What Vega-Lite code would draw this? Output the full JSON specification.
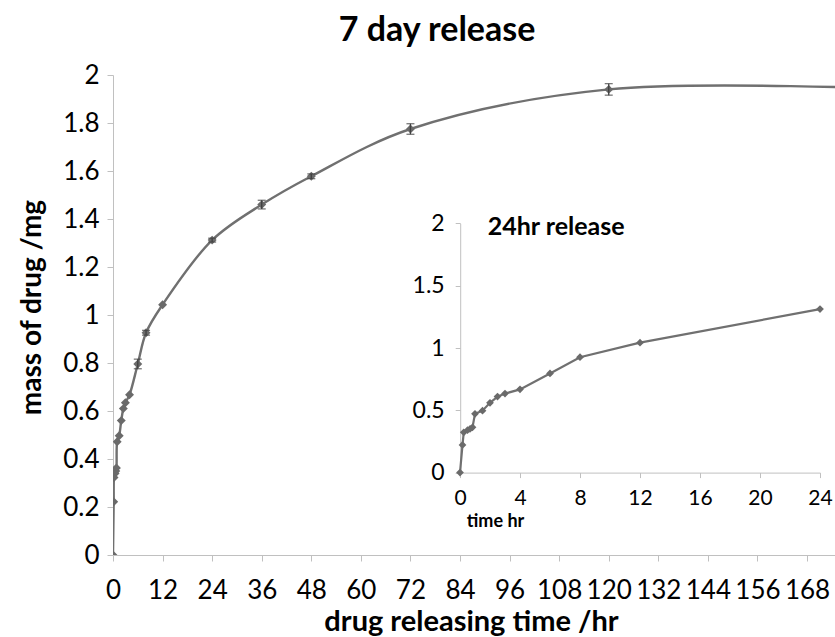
{
  "$schema": "https://vega.github.io/schema/vega-lite/v6.json",
  "width": 722,
  "height": 480,
  "autosize": {"type": "none"},
  "padding": {"left": 113, "top": 75, "right": 0, "bottom": 82},
  "background": "white",
  "config": {
    "font": "Lato",
    "view": {"stroke": null},
    "axis": {
      "grid": false,
      "domainColor": "#c0c0c0",
      "tickColor": "#c0c0c0",
      "labelColor": "#000000",
      "titleColor": "#000000",
      "labelFont": "Lato",
      "titleFont": "Lato"
    }
  },
  "title": {
    "text": "7 day release",
    "fontSize": 34,
    "fontWeight": "bold",
    "font": "Lato",
    "color": "#000000",
    "dx": -37,
    "offset": 14
  },
  "datasets": {
    "main": [
      {"t": 0, "m": 0},
      {"t": 0.1667, "m": 0.222},
      {"t": 0.25, "m": 0.323},
      {"t": 0.5, "m": 0.34},
      {"t": 0.667, "m": 0.35},
      {"t": 0.833, "m": 0.363},
      {"t": 1, "m": 0.472},
      {"t": 1.5, "m": 0.497},
      {"t": 2, "m": 0.56},
      {"t": 2.5, "m": 0.61},
      {"t": 3, "m": 0.634},
      {"t": 4, "m": 0.668},
      {"t": 6, "m": 0.796},
      {"t": 8, "m": 0.926},
      {"t": 12, "m": 1.043},
      {"t": 24, "m": 1.312},
      {"t": 36, "m": 1.46},
      {"t": 48, "m": 1.578},
      {"t": 72, "m": 1.775},
      {"t": 120, "m": 1.94},
      {"t": 192, "m": 1.94}
    ],
    "errs": [
      {"t": 6, "lo": 0.776, "hi": 0.816},
      {"t": 8, "lo": 0.916, "hi": 0.936},
      {"t": 24, "lo": 1.304, "hi": 1.32},
      {"t": 36, "lo": 1.442, "hi": 1.478},
      {"t": 48, "lo": 1.568, "hi": 1.588},
      {"t": 72, "lo": 1.753, "hi": 1.797},
      {"t": 120, "lo": 1.916, "hi": 1.964}
    ]
  },
  "layer": [
    {
      "encoding": {
        "x": {
          "field": "t",
          "type": "quantitative",
          "scale": {"domain": [0, 174.77], "nice": false, "zero": true},
          "axis": {
            "values": [0, 12, 24, 36, 48, 60, 72, 84, 96, 108, 120, 132, 144, 156, 168],
            "format": "d",
            "title": "drug releasing time /hr",
            "titleFontSize": 29,
            "titleFontWeight": "bold",
            "titleX": 358,
            "titleY": 66,
            "titleBaseline": "middle",
            "labelFontSize": 26,
            "labelPadding": 16,
            "tickSize": 6,
            "labelOverlap": false,
            "labelFlush": false
          }
        },
        "y": {
          "field": "m",
          "type": "quantitative",
          "scale": {"domain": [0, 2], "nice": false},
          "axis": {
            "values": [0, 0.2, 0.4, 0.6, 0.8, 1, 1.2, 1.4, 1.6, 1.8, 2],
            "format": ".1~f",
            "title": "mass of drug /mg",
            "titleFontSize": 28,
            "titleFontWeight": "bold",
            "titleX": -81,
            "titleY": 232,
            "titleBaseline": "middle",
            "titleAlign": "center",
            "labelFontSize": 26,
            "labelPadding": 8,
            "tickSize": 6,
            "labelOverlap": false,
            "labelFlush": false
          }
        }
      },
      "layer": [
        {
          "data": {"name": "main"},
          "mark": {"type": "line", "interpolate": "catmull-rom", "color": "#707070", "strokeWidth": 2.4, "clip": true}
        },
        {
          "data": {"name": "main"},
          "mark": {"type": "point", "shape": "diamond", "filled": true, "size": 80, "color": "#6a6a6a", "opacity": 1, "clip": true}
        },
        {
          "data": {"name": "errs"},
          "mark": {"type": "errorbar", "ticks": {"size": 8}, "color": "#404040", "thickness": 1.3},
          "encoding": {
            "y": {"field": "lo", "type": "quantitative"},
            "y2": {"field": "hi"}
          }
        }
      ]
    },
    {
      "data": {"name": "main"},
      "transform": [{"filter": "datum.t <= 24"}],
      "encoding": {
        "x": {
          "field": "t",
          "type": "quantitative",
          "scale": {"domain": [0, 24], "nice": false, "range": [347, 707]},
          "axis": {
            "orient": "bottom",
            "offset": -82.4,
            "values": [0, 4, 8, 12, 16, 20, 24],
            "format": "d",
            "title": "time hr",
            "titleFontSize": 18,
            "titleFontWeight": "bold",
            "titleX": 382,
            "titleY": 49,
            "titleBaseline": "middle",
            "labelFontSize": 21,
            "labelPadding": 10,
            "tickSize": 5,
            "labelFlush": false,
            "labelOverlap": false
          }
        },
        "y": {
          "field": "m",
          "type": "quantitative",
          "scale": {"domain": [0, 2], "nice": false, "range": [397.6, 148.4]},
          "axis": {
            "orient": "left",
            "offset": -347.2,
            "values": [0, 0.5, 1, 1.5, 2],
            "format": "~g",
            "title": "24hr release",
            "titleAngle": 0,
            "titleAlign": "left",
            "titleBaseline": "middle",
            "titleFontSize": 25,
            "titleFontWeight": "bold",
            "titleX": 27,
            "titleY": 151,
            "labelFontSize": 23,
            "labelPadding": 11,
            "tickSize": 5,
            "labelFlush": false,
            "labelOverlap": false
          }
        }
      },
      "layer": [
        {"mark": {"type": "line", "interpolate": "linear", "color": "#707070", "strokeWidth": 2.2}},
        {"mark": {"type": "point", "shape": "diamond", "filled": true, "size": 60, "color": "#6a6a6a", "opacity": 1}}
      ]
    }
  ],
  "resolve": {
    "scale": {"x": "independent", "y": "independent"},
    "axis": {"x": "independent", "y": "independent"}
  }
}
